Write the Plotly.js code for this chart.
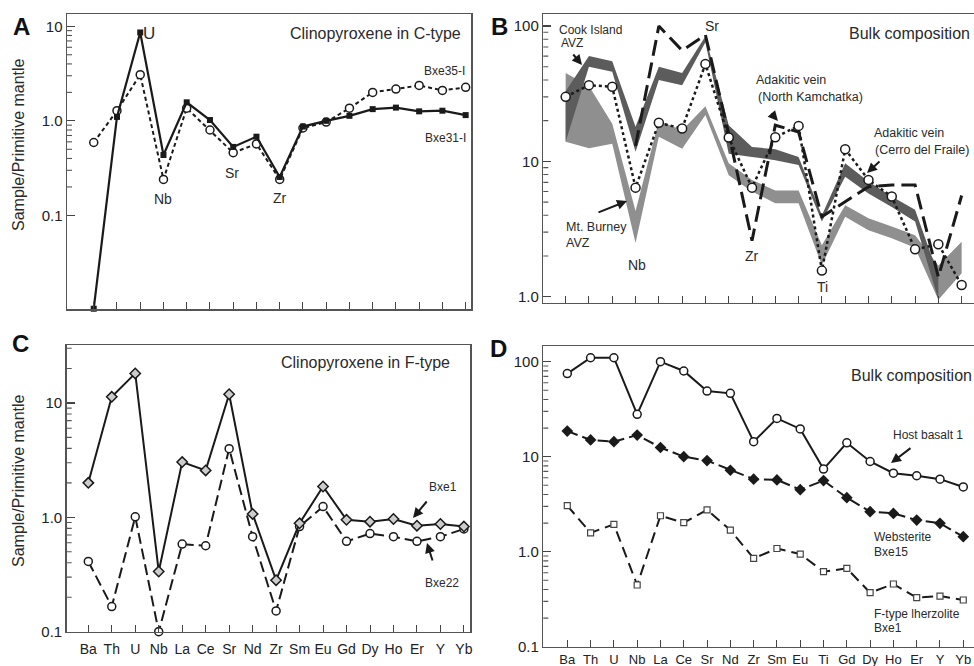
<!DOCTYPE html>
<html><head><meta charset="utf-8">
<script src="https://cdn.plot.ly/plotly-3.0.1.min.js"></script>
<style>html,body{margin:0;padding:0;background:#fff}#chart{width:974px;height:666px}</style>
</head><body><div id="chart"></div>
<script>
// ---- categories ----
const elemsCpx = ['Ba','Th','U','Nb','La','Ce','Sr','Nd','Zr','Sm','Eu','Gd','Dy','Ho','Er','Y','Yb'];
const elemsBulk = ['Ba','Th','U','Nb','La','Ce','Sr','Nd','Zr','Sm','Eu','Ti','Gd','Dy','Ho','Er','Y','Yb'];

// ---- Panel A: clinopyroxene in C-type ----
const bxe31I = [0.0103,1.1,8.6,0.435,1.57,1.02,0.53,0.68,0.255,0.87,1.0,1.13,1.33,1.38,1.26,1.28,1.15];
const bxe35I = [0.59,1.28,3.08,0.24,1.36,0.80,0.46,0.57,0.24,0.84,0.97,1.36,2.0,2.17,2.37,2.1,2.26];

// ---- Panel B: bulk composition comparison ----
const cookHi = [33,60,55,18,50,45,84,18.5,12.8,12.3,10.8,4.0,9.7,7.1,5.5,4.4,1.45,null];
const cookLo = [14,50,46,11.8,40,36.6,76,11.4,10.8,10.2,9.4,3.6,7.7,5.8,4.6,3.6,0.95,null];
const burneyHi = [45,36,19,4.3,20,17,25.6,9.7,7.3,6.1,6.1,2.4,4.75,3.8,3.3,2.85,1.7,2.55];
const burneyLo = [14,12.5,13.5,2.5,15.2,12.4,22,7.9,6.0,4.9,4.9,1.71,3.9,3.1,2.7,2.3,0.95,1.49];
const cerroFraile = [30,36.6,35.6,6.4,19.3,17.5,52.4,15.0,6.4,15.1,18.3,1.56,12.3,7.3,5.5,2.24,2.44,1.22];
const northKamchatka = [null,null,null,13,100,66,86,16,2.6,18.5,16.5,3.9,5.0,6.5,6.7,6.7,1.4,5.6];

// ---- Panel C: clinopyroxene in F-type ----
const bxe1C = [2.0,11.3,18.1,0.336,3.04,2.57,11.9,1.07,0.282,0.886,1.86,0.95,0.916,0.967,0.845,0.874,0.83];
const bxe22C = [0.411,0.166,1.01,0.1,0.583,0.564,3.98,0.677,0.152,0.83,1.24,0.616,0.72,0.677,0.616,0.677,0.79];

// ---- Panel D: bulk composition ----
const hostBasalt1 = [75,110,110,27.9,100,79.8,49,46.4,14.4,25.3,19.6,7.4,14.0,8.9,6.7,6.3,5.8,4.8];
const websteriteBxe15 = [18.6,15.0,14.4,16.9,12.5,10,9.1,7.2,5.8,5.7,4.5,5.6,3.7,2.64,2.53,2.15,1.99,1.44];
const fTypeBxe1 = [3.05,1.58,1.94,0.446,2.39,2.02,2.75,1.69,0.85,1.08,0.945,0.616,0.668,0.37,0.457,0.328,0.341,0.31];

// ---- axis ticks ----
const tickAlias = {'1': '1.0'};   // decade tick "1" is printed as "1.0"
const minorA = [0.2,0.3,0.4,0.5,0.6,0.7,0.8,0.9, 2,3,4,5,6,7,8,9];
const minorB = [2,3,4,5,6,7,8,9, 20,30,40,50,60,70,80,90];
const minorC = [0.2,0.3,0.4,0.5,0.6,0.7,0.8,0.9, 2,3,4,5,6,7,8,9, 20,30];
const minorD = [0.2,0.3,0.4,0.5,0.6,0.7,0.8,0.9, 2,3,4,5,6,7,8,9, 20,30,40,50,60,70,80,90];

const FONT = 'Liberation Sans, Arial, Helvetica, sans-serif';
const INK = '#1a1a1a';
const W = 974, H = 666;
const px = x => x / W, py = y => 1 - y / H;

function line(x, y, xa, ya, dash, width, marker, extra) {
  const t = {x, y, xaxis: xa, yaxis: ya, type: 'scatter', mode: marker ? 'lines+markers' : 'lines',
    line: {color: INK, width, dash}, showlegend: false, hoverinfo: 'skip'};
  if (marker) t.marker = marker;
  return Object.assign(t, extra || {});
}
const openCircle = s => ({symbol: 'circle', size: s, color: '#fff', line: {color: INK, width: 1.5}});
const band = (y, fill) => {
  const t = {x: elemsBulk, y, xaxis: 'x2', yaxis: 'y2', type: 'scatter', mode: 'lines',
    line: {width: 0, color: 'rgba(0,0,0,0)'}, showlegend: false, hoverinfo: 'skip'};
  if (fill) { t.fill = 'tonexty'; t.fillcolor = fill; }
  return t;
};

const traces = [
  line(elemsCpx, bxe35I, 'x', 'y', '4px,3px', 2, openCircle(8)),
  line(elemsCpx, bxe31I, 'x', 'y', 'solid', 2.2, {symbol: 'square', size: 6, color: INK}, {cliponaxis: false}),
  band(burneyHi, null),
  band(burneyLo, '#8f8f8f'),
  band(cookHi, null),
  band(cookLo, '#5c5c5c'),
  line(elemsBulk, northKamchatka, 'x2', 'y2', '16px,7px', 3, null),
  line(elemsBulk, cerroFraile, 'x2', 'y2', 'dot', 2.5, openCircle(9), {cliponaxis: false}),
  line(elemsCpx, bxe22C, 'x3', 'y3', '11px,5px', 2, openCircle(8), {cliponaxis: false}),
  line(elemsCpx, bxe1C, 'x3', 'y3', 'solid', 2, {symbol: 'diamond', size: 8, color: '#ccc', line: {color: INK, width: 1.5}}),
  line(elemsBulk, fTypeBxe1, 'x4', 'y4', '11px,6px', 2, {symbol: 'square', size: 6, color: '#fff', line: {color: '#444', width: 1.2}}),
  line(elemsBulk, websteriteBxe15, 'x4', 'y4', '11px,5px', 2, {symbol: 'diamond', size: 9, color: INK}),
  line(elemsBulk, hostBasalt1, 'x4', 'y4', 'solid', 2, openCircle(8)),
];

function xax(domain, range, showLabels, anchor, fs, standoff) {
  return {domain, range, anchor, type: 'category', showline: true, linecolor: '#555', linewidth: 1.5, mirror: true,
    showgrid: false, zeroline: false, ticks: 'inside', ticklen: 7, tickcolor: '#444',
    showticklabels: showLabels, tickfont: {family: FONT, size: fs || 14, color: '#222'}, ticklabelstandoff: standoff == null ? 4 : standoff};
}
function yax(domain, range, anchor, mirror) {
  return {domain, range, anchor, type: 'log', dtick: 1, labelalias: tickAlias,
    showline: true, linecolor: '#555', linewidth: 1.5, mirror, showgrid: false, zeroline: false,
    ticks: 'inside', ticklen: 8, tickcolor: '#444', tickwidth: 1.3, tickfont: {family: FONT, size: 15, color: '#222'}};
}

// minor ticks: short lines on each panel's left axis at the log-axis values
const shapes = [];
function minorTicks(ya, vals, leftPx) {
  vals.forEach(v => shapes.push({type: 'line', xref: 'paper', yref: ya, x0: leftPx / W, x1: (leftPx + 5) / W,
    y0: v, y1: v, line: {color: '#555', width: 1.1}}));
}
minorTicks('y', minorA, 67);
minorTicks('y2', minorB, 543.3);
minorTicks('y3', minorC, 66.7);
minorTicks('y4', minorD, 543.3);

const ann = [];
function T(text, x, y, size, opts) {
  ann.push(Object.assign({text, x: px(x), y: py(y), xref: 'paper', yref: 'paper', showarrow: false,
    font: {family: FONT, size, color: '#2a2a2a'}, xanchor: 'center', yanchor: 'middle'}, opts || {}));
}
function A(x0, y0, x1, y1) {
  ann.push({text: '', x: px(x1), y: py(y1), xref: 'paper', yref: 'paper', ax: x0 - x1, ay: y0 - y1, axref: 'pixel', ayref: 'pixel',
    showarrow: true, arrowhead: 2, arrowsize: 1, arrowwidth: 2, arrowcolor: INK});
}
const bold = {font: {family: FONT, size: 24, color: '#111'}};
T('<b>A</b>', 21, 26, 24, bold);
T('<b>B</b>', 500, 26, 24, bold);
T('<b>C</b>', 20, 343, 24, bold);
T('<b>D</b>', 499, 348, 24, bold);
T('Sample/Primitive mantle', 18, 145, 16, {textangle: -90});
T('Sample/Primitive mantle', 18, 481, 16, {textangle: -90});
T('Clinopyroxene in C-type', 463, 33, 16, {xanchor: 'right'});
T('U', 149, 34, 17); T('Nb', 163, 199, 14); T('Sr', 232, 173, 14); T('Zr', 280, 198, 14);
T('Bxe35-I', 444, 71, 12); T('Bxe31-I', 445, 138, 12);
T('Bulk composition', 972, 33, 16, {xanchor: 'right'});
T('Cook Island', 590, 30, 12); T('AVZ', 572, 43, 12);
T('Mt. Burney', 596, 227, 12.5); T('AVZ', 578, 243, 12.5);
T('Nb', 637, 265, 14); T('Sr', 712, 26, 14); T('Zr', 752, 256, 14); T('Ti', 822, 287, 14);
T('Adakitic vein', 791, 80, 12.5); T('(North Kamchatka)', 810, 97, 12.5);
T('Adakitic vein', 909, 133, 12.5); T('(Cerro del Fraile)', 922, 150, 12.5);
A(572, 53, 582, 65); A(597, 213, 627, 201); A(770, 112, 778, 121); A(881, 160, 867, 173);
T('Clinopyroxene in F-type', 452, 362, 16, {xanchor: 'right'});
T('Bxe1', 443, 487, 12); T('Bxe22', 442, 583, 12);
A(428, 500, 413, 518); A(433, 562, 427, 543);
T('Bulk composition', 974, 375, 16, {xanchor: 'right'});
T('Host basalt 1', 928, 435, 12);
T('Websterite', 872, 537, 12, {xanchor: 'left'}); T('Bxe15', 872, 552, 12, {xanchor: 'left'});
T('F-type lherzolite', 872, 614, 12, {xanchor: 'left'}); T('Bxe1', 872, 628, 12, {xanchor: 'left'});
A(912, 447, 891, 463);

const layout = {
  width: W, height: H, margin: {l: 0, r: 0, t: 0, b: 0}, paper_bgcolor: '#fff', plot_bgcolor: '#fff',
  showlegend: false, font: {family: FONT, color: '#222'},
  xaxis: xax([67/W, 471/W], [-1.15, 16.23], false, 'y'),
  yaxis: yax([py(309), py(14)], [-1.99, 1.13], 'x', true),
  xaxis2: xax([543.3/W, 1], [-0.96, 17.53], false, 'y2'),
  yaxis2: yax([py(302.7), py(14.3)], [-0.044, 2.087], 'x2', false),
  xaxis3: xax([66.7/W, 470/W], [-0.92, 16.26], true, 'y3'),
  yaxis3: yax([py(631.7), py(345)], [-1, 1.506], 'x3', true),
  xaxis4: xax([543.3/W, 1], [-1.03, 17.46], true, 'y4', 13, 0),
  yaxis4: yax([py(646.7), py(346)], [-1, 2.165], 'x4', false),
  shapes, annotations: ann
};
Plotly.newPlot('chart', traces, layout, {staticPlot: true, displayModeBar: false});
</script></body></html>
